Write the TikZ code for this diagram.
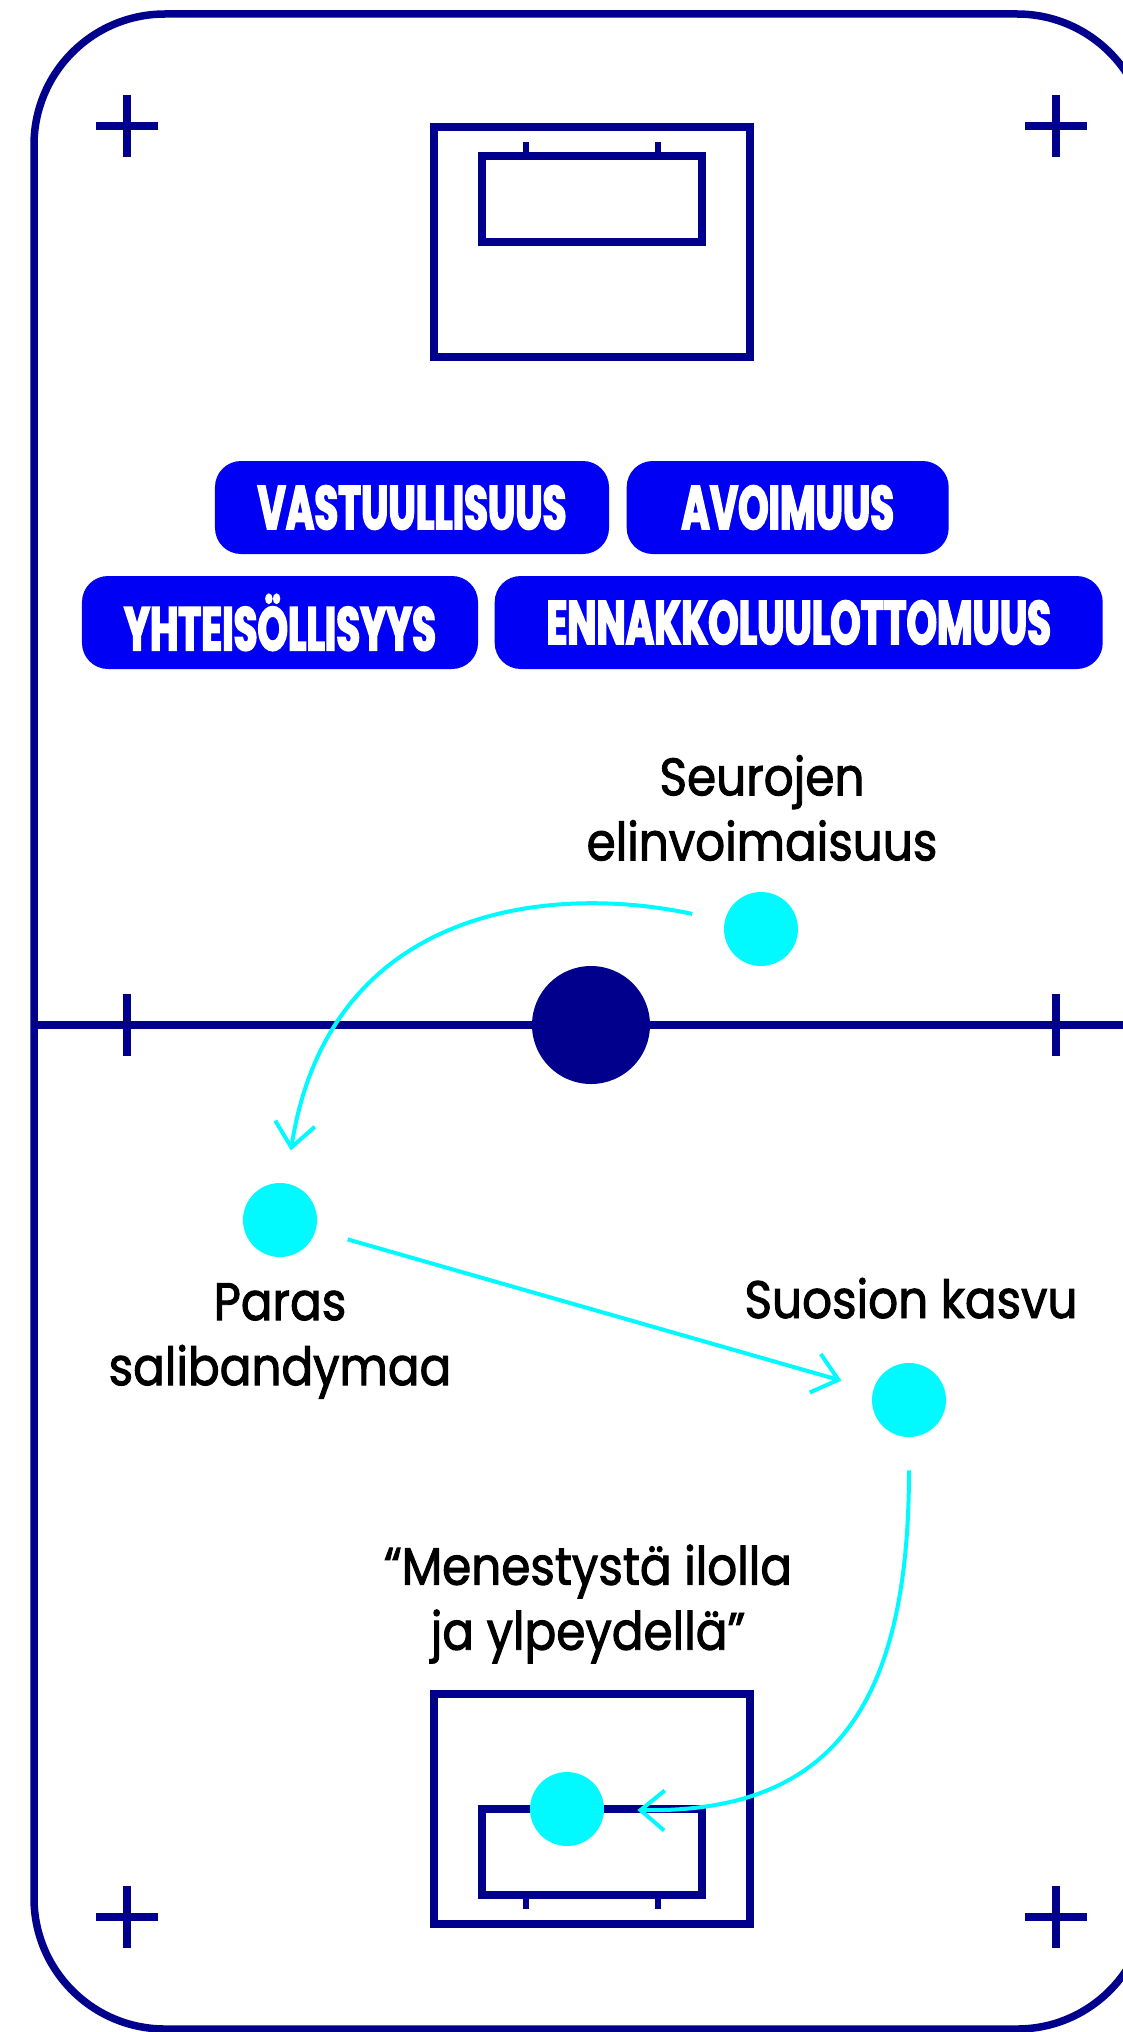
\documentclass[tikz,border=0pt]{standalone}
\usepackage{fontspec}
\setmainfont{Poppins}
\newfontfamily\lblfont[FakeStretch=0.89,FakeBold=1.8]{Poppins}
\newfontfamily\pillfont[FakeStretch=0.63,FakeBold=2.6]{Poppins}
\usetikzlibrary{positioning,arrows.meta}

\definecolor{rinknavy}{RGB}{0,0,140}
\definecolor{puckcyan}{RGB}{0,250,255}
\definecolor{pillblue}{RGB}{0,0,245}

\tikzset{
  rinkline/.style={draw=rinknavy, line width=1.5mm},
  pill/.style={rectangle, rounded corners=5.2mm, fill=pillblue, text=white,
    inner sep=0pt, minimum height=18.6mm,
    font=\pillfont\bfseries\fontsize{35}{35}\selectfont},
  dot/.style={circle, fill=puckcyan, inner sep=0pt, minimum size=14.8mm},
  lbl/.style={align=center, text=black, font=\lblfont\fontsize{30}{37}\selectfont},
  flow/.style={draw=puckcyan, line width=0.8mm, shorten <=6.6mm, shorten >=6.6mm,
    -{Straight Barb[length=4.8mm,width=8mm]}}
}

\begin{document}
\begin{tikzpicture}[x=0.2mm, y=-0.2mm]
\useasboundingbox (0,0) rectangle (1123,2032);
% rink outline and centre line
\draw[rinkline, rounded corners=26.2mm] (34,14) rectangle (1148,2029);
\draw[rinkline] (34,1025) -- (1148,1025);
\foreach \cx in {127,1056}
  \foreach \cy in {126,1025,1917} {
    \draw[rinkline] (\cx-31,\cy) -- (\cx+31,\cy) (\cx,\cy-31) -- (\cx,\cy+31);
  }
% top goal
\draw[rinkline] (434,127) rectangle (750,357);
\draw[rinkline] (482,156) rectangle (702,242);
\draw[rinkline, line width=1.1mm] (526,142) -- (526,156) (658,142) -- (658,156);
% bottom goal
\draw[rinkline] (434,1694) rectangle (750,1924);
\draw[rinkline] (482,1809) rectangle (702,1895);
\draw[rinkline, line width=1.1mm] (526,1895) -- (526,1909) (658,1895) -- (658,1909);
% values
\node[pill, minimum width=78.8mm] (vast) at (412,507.5) {VASTUULLISUUS};
\node[pill, minimum width=64.4mm, right=3.4mm of vast] (avoi) {AVOIMUUS};
\node[pill, minimum width=79.2mm] (yht) at (280,622.5) {YHTEISÖLLISYYS};
\node[pill, minimum width=121.6mm, right=3.2mm of yht] (enn) {ENNAKKOLUULOTTOMUUS};
% puck and goals
\node[circle, fill=rinknavy, inner sep=0pt, minimum size=23.6mm] (puck) at (591,1025) {};
\node[dot] (seu) at (761,929) {};
\node[dot] (par) at (280,1220) {};
\node[dot] (suo) at (909,1400) {};
\node[dot] (goal) at (567,1809) {};
\node[lbl] (seutxt) at (762,808) {Seurojen\\elinvoimaisuus};
\node[lbl] (partxt) at (280,1341) {Paras\\salibandymaa};
\node[lbl, anchor=base] (suotxt) at (911,1318) {Suosion kasvu};
\node[lbl] (goaltxt) at (588,1604) {“Menestystä ilolla\\ja ylpeydellä”};
% passes
\draw[flow] (seu) .. controls (560,885) and (330,900) .. (par);
\draw[flow] (par) -- (suo);
\draw[flow] (suo) .. controls (909,1712) and (828,1813) .. (goal);
\end{tikzpicture}
\end{document}
